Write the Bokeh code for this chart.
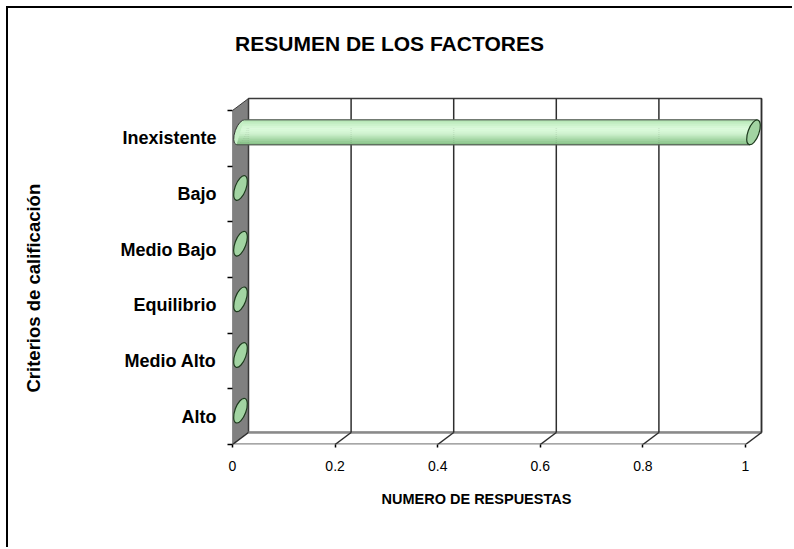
from bokeh.plotting import figure
from bokeh.models import FixedTicker, Range1d, Title, Label, LinearAxis
from bokeh.embed import file_html
from bokeh.resources import INLINE

# ---------------- data ----------------
categories = ["Alto", "Medio Alto", "Equilibrio", "Medio Bajo", "Bajo", "Inexistente"]
respuestas = [0, 0, 0, 0, 0, 1]
x_ticks = [0, 0.2, 0.4, 0.6, 0.8, 1]
x_tick_labels = ["0", "0.2", "0.4", "0.6", "0.8", "1"]
title_text = "RESUMEN DE LOS FACTORES"
x_title = "NUMERO DE RESPUESTAS"
y_title = "Criterios de calificación"

# ---------------- layout / style constants ----------------
FONT = "Liberation Sans"
N = len(categories)
X_MAX = x_ticks[-1]
PX_X = 513.0        # pixels per x unit
PX_Y = 55.667       # pixels per category
DX = 16 / PX_X      # 3-D depth offset (x)
DY = 12 / PX_Y      # 3-D depth offset (y)
X_END = 538 / PX_X
Y_END = 424 / PX_Y
HALF_H = 12.5 / PX_Y            # cylinder half height
SHEAR = 3.7 / PX_X              # tangent-point shift of tilted ellipse
ELL_W, ELL_H, ELL_ANGLE = 11, 26, -0.35

p = figure(width=786, height=541, output_backend="svg", toolbar_location=None,
           x_range=Range1d(0, X_END), y_range=Range1d(0, Y_END),
           min_border_left=224, min_border_right=24, min_border_top=12, min_border_bottom=105,
           background_fill_color="white", border_fill_color="white",
           outline_line_color=None)
p.styles = {"margin-left": "6px", "margin-top": "6px",
            "border-left": "2px solid #000000", "border-top": "2px solid #000000"}
p.xgrid.visible = False
p.ygrid.visible = False

# ---------------- walls ----------------
p.patch([0, DX, DX, 0], [0, DY, N + DY, N], fill_color="#808080",
        line_color="#3a3a3a", line_width=1)
p.quad(left=DX, right=X_MAX + DX, bottom=DY, top=N + DY, fill_color="white",
       line_color="#3a3a3a", line_width=1.5)
p.patch([0, X_MAX, X_MAX + DX, DX], [0, 0, DY, DY], fill_color="white", line_color=None)
p.segment(x0=[0, DX], y0=[0, DY], x1=[X_MAX, X_MAX + DX], y1=[0, DY],
          line_color="#8a8a8a", line_width=2.5)
gx = [t + DX for t in x_ticks[1:]]
p.segment(x0=gx, y0=[DY] * len(gx), x1=gx, y1=[N + DY] * len(gx),
          line_color="#2e2e2e", line_width=1.5)
p.segment(x0=x_ticks, y0=[0] * len(x_ticks), x1=[t + DX for t in x_ticks],
          y1=[DY] * len(x_ticks), line_color="#2e2e2e", line_width=1.5)

# ---------------- cylinders ----------------
strip_colors = ["#b4e4b4", "#c2ecc2", "#ccf2cc", "#d4f7d4", "#d8f9d8", "#d6f8d6",
                "#cff3cf", "#c3ebc3", "#b4e1b4", "#a5d7a5", "#96cc96", "#8bc38b"]
x0 = DX / 2
cyl_x, cyl_y = [], []
face_x, face_y = [], []
sxs, sys_, scol = [], [], []
ot_x0, ot_x1, ot_y = [], [], []
for i, v in enumerate(respuestas):
    yc = i + 0.5 + DY / 2
    if v > 0:
        x1 = v + x0
        cyl_x.append(x0)
        cyl_y.append(yc)
        ns = len(strip_colors)
        for k, c in enumerate(strip_colors):
            yt = yc + HALF_H - 2 * HALF_H * k / ns
            yb = yc + HALF_H - 2 * HALF_H * (k + 1) / ns
            st = SHEAR * (yt - yc) / HALF_H
            sb = SHEAR * (yb - yc) / HALF_H
            sxs.append([x0 + st, x1 + st, x1 + sb, x0 + sb])
            sys_.append([yt, yt, yb, yb])
            scol.append(c)
        ot_x0 += [x0 + SHEAR, x0 - SHEAR]
        ot_x1 += [x1 + SHEAR, x1 - SHEAR]
        ot_y += [yc + HALF_H, yc - HALF_H]
        face_x.append(x1)
        face_y.append(yc)
    else:
        face_x.append(x0)
        face_y.append(yc)

if cyl_x:
    p.ellipse(x=cyl_x, y=cyl_y, width=ELL_W, height=ELL_H, angle=ELL_ANGLE,
              width_units="screen", height_units="screen",
              fill_color="#c6efc6", line_color="#333333", line_width=1)
    p.patches(sxs, sys_, fill_color=scol, line_color=scol, line_width=0.5)
    p.segment(x0=ot_x0, y0=ot_y, x1=ot_x1, y1=ot_y, line_color="#404040", line_width=1)
p.ellipse(x=face_x, y=face_y, width=ELL_W, height=ELL_H, angle=ELL_ANGLE,
          width_units="screen", height_units="screen",
          fill_color="#a2d4a2", line_color="#1e3a1e", line_width=1.2)

# ---------------- axes ----------------
xa = p.xaxis[0]
xa.ticker = FixedTicker(ticks=x_ticks)
xa.major_label_overrides = {t: l for t, l in zip(x_ticks, x_tick_labels)}
xa.axis_line_color = None
xa.major_tick_in = 0
xa.major_tick_out = 3
xa.major_tick_line_color = "black"
xa.major_tick_line_width = 1.5
xa.major_label_standoff = 13
xa.major_label_text_font = FONT
xa.major_label_text_font_size = "14px"
xa.major_label_text_color = "black"

ya = p.yaxis[0]
ya.ticker = FixedTicker(ticks=[i + 0.5 for i in range(N)], minor_ticks=list(range(N + 1)))
ya.major_label_overrides = {i + 0.5: c for i, c in enumerate(categories)}
ya.axis_line_color = None
ya.major_tick_line_color = None
ya.major_tick_in = 0
ya.major_tick_out = 0
ya.minor_tick_line_color = "black"
ya.minor_tick_line_width = 1.5
ya.minor_tick_in = 0
ya.minor_tick_out = 5
ya.major_label_standoff = 11
ya.major_label_text_font = FONT
ya.major_label_text_font_style = "bold"
ya.major_label_text_font_size = "18px"
ya.major_label_text_color = "black"

# spacer axis (white tick on white, empty label): moves the vertical title to the left edge
spacer = LinearAxis(ticker=FixedTicker(ticks=[0]), axis_line_color=None,
                    major_tick_line_color="white", major_tick_line_width=1,
                    minor_tick_line_color=None,
                    major_tick_in=0, major_tick_out=74, minor_tick_in=0, minor_tick_out=0,
                    major_label_standoff=0, major_label_overrides={0: ""})
p.add_layout(spacer, "left")

# ---------------- titles ----------------
p.add_layout(Label(x=(389 - 232) / PX_X, y=(444 - 43) / PX_Y, text=title_text,
                   text_font=FONT, text_font_style="bold", text_font_size="21px",
                   text_align="center", text_baseline="middle", text_color="black"))
p.add_layout(Title(text=x_title, align="left", offset=149, standoff=30,
                   text_font=FONT, text_font_style="bold", text_font_size="14.5px",
                   text_color="black"), "below")
p.add_layout(Title(text=y_title, align="left", offset=52, standoff=0,
                   text_font=FONT, text_font_style="bold", text_font_size="18.5px",
                   text_color="black"), "left")

open("out.html", "w").write(file_html(p, INLINE))
